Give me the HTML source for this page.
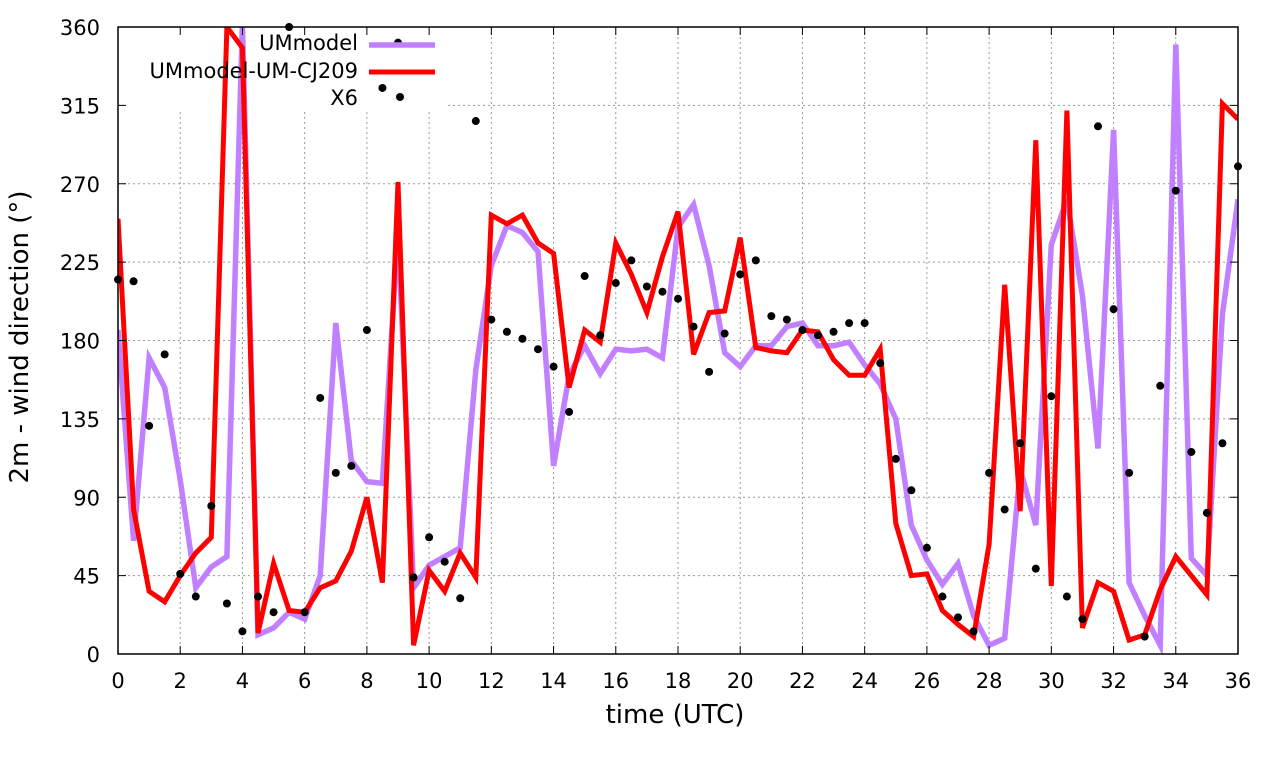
<!DOCTYPE html>
<html><head><meta charset="utf-8">
<style>
html,body{margin:0;padding:0;background:#fff;}
svg{display:block;font-family:"DejaVu Sans","Liberation Sans",sans-serif;}
</style></head>
<body>
<svg id="chart" width="1280" height="760" viewBox="0 0 1280 760" xmlns="http://www.w3.org/2000/svg">
<rect x="0" y="0" width="1280" height="760" fill="#fff"/>
<g id="grid"></g>
<rect x="124" y="28" width="324" height="82" fill="#fff"/>
<g id="series"></g>
<rect x="118" y="27" width="1120" height="627" fill="none" stroke="#000" stroke-width="1.5"/>
<g id="ticks"></g>
<text transform="translate(28,337) rotate(-90)" text-anchor="middle" font-size="26">2m - wind direction (°)</text>
<text x="675" y="723" text-anchor="middle" font-size="26">time (UTC)</text>
<g id="legend">
<text x="358" y="50" text-anchor="end" font-size="21">UMmodel</text>
<line x1="369" y1="45" x2="435" y2="45" stroke="#c080ff" stroke-width="5.5"/>
<text x="358" y="78" text-anchor="end" font-size="21">UMmodel-UM-CJ209</text>
<line x1="369" y1="72" x2="435" y2="72" stroke="#ff0000" stroke-width="5"/>
<text x="358" y="105" text-anchor="end" font-size="21">X6</text>
<circle cx="400" cy="97" r="4" fill="#000"/>
</g>
</svg>
<script>
const times = [];
for (let i = 0; i <= 72; i++) times.push(i * 0.5);
const xTicks = [0,2,4,6,8,10,12,14,16,18,20,22,24,26,28,30,32,34,36];
const yTicks = [0,45,90,135,180,225,270,315,360];
const umModel = [186,65,170,153,100,38,50,56,362,11,15,24,20,45,190,111,99,98,243,38,51,56,61,163,223,246,242,231,108,160,177,161,175,174,175,170,245,258,223,173,165,177,177,188,190,177,177,179,166,155,135,74,54,40,52,22,5,9,106,74,235,261,206,118,301,41,22,5,350,55,45,195,261];
const cj209 = [250,83,36,30,45,58,67,360,348,12,52,25,24,38,42,59,90,41,271,5,48,36,58,44,252,247,252,236,230,153,186,179,236,218,196,228,254,172,196,197,239,176,174,173,186,185,169,160,160,175,75,45,46,25,17,10,63,212,82,295,39,312,15,41,36,8,11,37,56,45,34,316,307];
const x6 = [215,214,131,172,46,33,85,29,13,33,24,360,24,147,104,108,186,325,351,44,67,53,32,306,192,185,181,175,165,139,217,183,213,226,211,208,204,188,162,184,218,226,194,192,186,183,185,190,190,167,112,94,61,33,21,13,104,83,121,49,148,33,20,303,198,104,10,154,266,116,81,121,280];

const L=118,R=1238,T=27,B=654;
function xs(v){return L+(v-0)/36*(R-L);}
function ys(v){return B-(v-0)/360*(B-T);}
const NS="http://www.w3.org/2000/svg";
function mk(tag,attrs,parent){const e=document.createElementNS(NS,tag);for(const k in attrs)e.setAttribute(k,attrs[k]);parent.appendChild(e);return e;}
const grid=document.getElementById('grid'),ticks=document.getElementById('ticks'),series=document.getElementById('series');

xTicks.forEach(t=>{
  const x=xs(t);
  if(t>0&&t<36){const g=mk('line',{x1:x,y1:T,x2:x,y2:B,stroke:'#999','stroke-width':1,'stroke-dasharray':'2,3'},grid);
  
  }
  const a=mk('line',{x1:x,y1:B,x2:x,y2:B-8,stroke:'#000','stroke-width':1},ticks);
  
  
  const b=mk('line',{x1:x,y1:T,x2:x,y2:T+8,stroke:'#000','stroke-width':1},ticks);
  
  
  const tx=mk('text',{x:x,y:688,'text-anchor':'middle','font-size':21},ticks);
  tx.textContent=t;
  
  
});
yTicks.forEach(t=>{
  const y=ys(t);
  if(t>0&&t<360){const g=mk('line',{x1:L,y1:y,x2:R,y2:y,stroke:'#999','stroke-width':1,'stroke-dasharray':'2,3'},grid);
  
  }
  const a=mk('line',{x1:L,y1:y,x2:L+8,y2:y,stroke:'#000','stroke-width':1},ticks);
  
  
  const b=mk('line',{x1:R,y1:y,x2:R-8,y2:y,stroke:'#000','stroke-width':1},ticks);
  
  
  const tx=mk('text',{x:100,y:y+8,'text-anchor':'end','font-size':21},ticks);
  tx.textContent=t;
  
  
});

const defs=mk('defs',{},series);
const cp=mk('clipPath',{id:'clip'},defs);
mk('rect',{x:L,y:T,width:R-L,height:B-T},cp);

function line(vals,color,w,name){
  const d=vals.map((v,i)=>(i?'L':'M')+xs(times[i]).toFixed(1)+','+ys(v).toFixed(1)).join(' ');
  const p=mk('path',{d:d,fill:'none',stroke:color,'stroke-width':w,'stroke-linejoin':'miter','clip-path':'url(#clip)'},series);
  
  
}
line(umModel,'#c080ff',5.5,'ummodel-line');
line(cj209,'#ff0000',5,'cj209-line');
x6.forEach((v,i)=>{
  const c=mk('circle',{cx:xs(times[i]),cy:ys(v),r:4,fill:'#000'},series);
  
  
});
</script>
</body></html>
